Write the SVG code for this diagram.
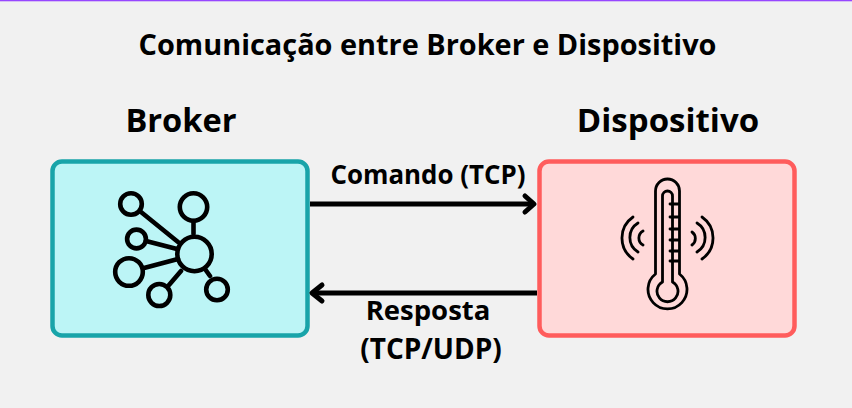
<svg xmlns="http://www.w3.org/2000/svg" width="852" height="408" viewBox="0 0 852 408">
<style>
text{font-family:"Open Sans","Noto Sans",sans-serif;font-weight:700;fill:#000;text-anchor:middle}
.ic{fill:none;stroke:#000;stroke-linecap:round;stroke-linejoin:round}
.conn{fill:none;stroke:#000;stroke-width:5;stroke-linejoin:round}
.head{stroke-linecap:round}
</style>
<rect width="852" height="408" fill="#f1f1f1"/>
<rect width="852" height="1.3" fill="#9747ff"/>
<text id="title" x="427.500" y="55" font-size="28.900">Comunicação entre Broker e Dispositivo</text>
<g id="broker">
<text x="181" y="132" font-size="32.600">Broker</text>
<rect x="52.500" y="161.500" width="255" height="174" rx="9.500" fill="#bcf5f6" stroke="#18a4a9" stroke-width="4.500"/>
<g class="ic" stroke-width="4.600">
<circle cx="131" cy="204" r="10.800"/><circle cx="193.500" cy="207" r="13.700"/><circle cx="136.500" cy="239" r="9.400"/><circle cx="194.500" cy="254" r="17.200"/><circle cx="129" cy="272" r="13.800"/><circle cx="159.300" cy="295" r="11"/><circle cx="217" cy="289.500" r="10.800"/>
<path d="M141 212L178 242M193.500 221V234M146 241L177 249M144 268L178 259M169 285L181 271M205 269L210 276"/>
</g>
</g>
<g id="dispositivo">
<text x="668" y="132" font-size="33">Dispositivo</text>
<rect x="539.500" y="161.500" width="255" height="174" rx="9.500" fill="#ffd9d9" stroke="#ff5c5c" stroke-width="4.500"/>
<g class="ic" stroke-width="2.800">
<path d="M655.500 274V191A12 12 0 0 1 679.500 191V274A19.500 19.500 0 1 1 655.500 274Z"/>
<path d="M662.500 282V196A5 5 0 0 1 672.500 196V282A10.500 10.500 0 1 1 662.500 282Z"/>
<path d="M670 204H678M670 217H678M670 229H678M670 240H678M670 251H678M670 261H678"/>
<path d="M633 217A25.500 25.500 0 0 0 633 259M638 223A17 17 0 0 0 638 252M643 231A8 8 0 0 0 643 245M702 217A25.500 25.500 0 0 1 702 259M697 223A17 17 0 0 1 697 252M692 232A8 8 0 0 1 692 245"/>
</g>
</g>
<g id="connectors">
<path class="conn" d="M310 204H533"/><path class="conn head" d="M525 196L534 204L525 212"/>
<path class="conn" d="M537 293H313"/><path class="conn head" d="M322 285L312 293L322 301"/>
</g>
<g id="labels">
<text x="428" y="184" font-size="25.900">Comando (TCP)</text>
<text x="428" y="320" font-size="27.500">Resposta</text>
<text x="431" y="359" font-size="28">(TCP/UDP)</text>
</g>
</svg>
